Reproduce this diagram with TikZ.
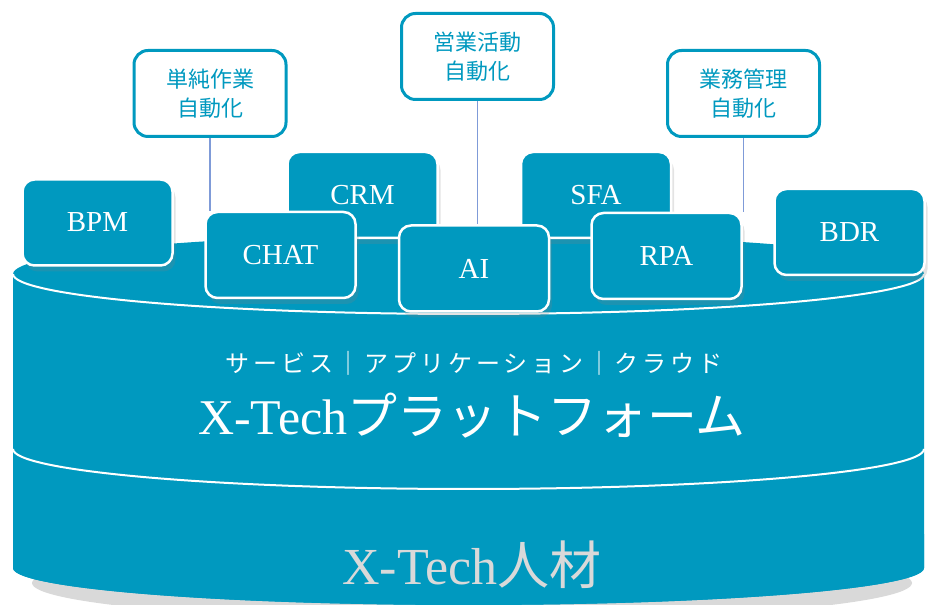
\documentclass[tikz,border=0pt]{standalone}
\usepackage{fontspec}
\setmainfont{Liberation Serif}
\newfontfamily\cjk{Noto Sans CJK JP}
\newfontfamily\cjkwide[LetterSpace=16]{Noto Sans CJK JP}
\usetikzlibrary{shadows}
\definecolor{xteal}{HTML}{0099BF}
\definecolor{xtealdark}{HTML}{00788F}
\definecolor{linkblue}{HTML}{7F9BD8}
\tikzset{x=1pt, y=1pt,
tech/.style={ % Teal boxes standing on the platform
draw=white, line width=2.5pt,
fill=xteal, rounded corners=12pt,
minimum width=150pt, minimum height=86pt,
text=white, font=\fontsize{29}{30}\selectfont,
drop shadow={opacity=0.22, shadow xshift=3pt, shadow yshift=-6pt}},
goal/.style={ % White callouts with the aims
draw=xteal, line width=3pt,
fill=white, rounded corners=14pt,
minimum width=152pt, minimum height=86pt,
align=center, text=xteal, font=\cjk\fontsize{22}{29}\selectfont},
link/.style={draw=linkblue, line width=1.2pt}}
\def\platformpath{(13,331) -- (13,37) arc[start angle=180, end angle=360, x radius=455.5pt, y radius=37pt] -- (924,331) arc[start angle=0, end angle=180, x radius=455.5pt, y radius=40pt] -- cycle}

\begin{document}
\begin{tikzpicture}
\useasboundingbox (0,0) rectangle (930,605);
% platform cylinder
\fill[black, opacity=0.15] (472,22) ellipse [x radius=440pt, y radius=38pt];
\fill[xteal] \platformpath;
\begin{scope}
\clip \platformpath;
\shade[top color=xteal, middle color=xtealdark, bottom color=xteal] (0,-8) rectangle (930,70);
\end{scope}
\draw[white, line width=2pt] (13,331) arc[start angle=180, end angle=360, x radius=455.5pt, y radius=40pt];
\draw[white, line width=2pt] (13,156) arc[start angle=180, end angle=360, x radius=455.5pt, y radius=40pt];
\node[text=white, font=\cjkwide\fontsize{24}{26}\selectfont] (layers) at (474,242) {サービス｜アプリケーション｜クラウド};
\node[text=white, font=\fontsize{50}{52}\selectfont] (platform) at (472,189) {X-Tech{\cjk プラットフォーム}};
\node[text=white!85!black, font=\fontsize{52}{54}\selectfont] (talent) at (472,40) {X-Tech{\cjk 人材}};
% callouts
\node[goal] (simple) at (210,511.5) {単純作業\\自動化};
\node[goal] (sales) at (477.5,548.5) {営業活動\\自動化};
\node[goal] (office) at (743.5,511.5) {業務管理\\自動化};
% boxes at the back
\node[tech] (bpm) at (97.5,382.5) {BPM};
\node[tech] (crm) at (362.5,410) {CRM};
\node[tech] (sfa) at (596,410) {SFA};
\node[tech] (bdr) at (849.5,373) {BDR};
% boxes at the front
\node[tech] (chat) at (280.5,350) {CHAT};
\node[tech] (ai) at (474,336.5) {AI};
\node[tech] (rpa) at (666.5,349) {RPA};
\draw[link] (simple.south) -- (simple.south |- chat.north);
\draw[link] (sales.south) -- (sales.south |- ai.north);
\draw[link] (office.south) -- (office.south |- rpa.north);
\end{tikzpicture}
\end{document}
